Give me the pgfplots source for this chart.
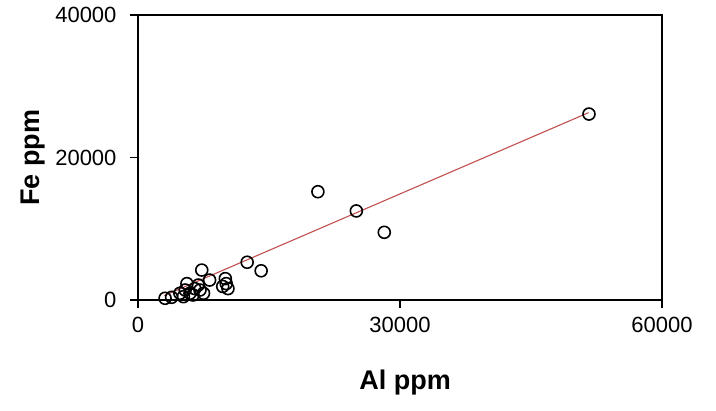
\documentclass[border=0pt]{standalone}
\usepackage{fontspec}
\setmainfont{Liberation Sans}
\usepackage{pgfplots}
\pgfplotsset{compat=1.18}
\definecolor{trend}{RGB}{192,80,77}
\begin{document}
\begin{tikzpicture}
\begin{axis}[
  scale only axis, width=524pt, height=285pt,
  xmin=0, xmax=60000, ymin=0, ymax=40000,
  xtick={0,30000,60000}, ytick={0,20000,40000},
  scaled ticks=false,
  /pgf/number format/1000 sep={},
  /pgf/number format/assume math mode=true,
  tick align=outside, tick pos=left, major tick length=8pt,
  axis line style={line width=1.8pt},
  major tick style={line width=1.3pt, black},
  tick label style={font=\fontsize{22}{26}\selectfont},
  yticklabel style={xshift=-10pt},
  xticklabel style={yshift=-6pt},
  label style={font=\fontsize{27}{32}\selectfont\bfseries},
  xlabel={Al ppm}, ylabel={Fe ppm},
  x label style={at={(axis description cs:0.51,-0.29)}, anchor=center},
  y label style={at={(axis description cs:-0.2,0.5)}, anchor=center},
]
% trend line
\addplot[trend, line width=1.1pt] coordinates {(3000,620) (51600,26300)};
% samples
\addplot[only marks, mark=o, mark size=6pt, mark options={line width=1.6pt, black}] coordinates {
  (51640,26100) (20600,15200) (25000,12500) (28200,9500)
  (12500,5300) (14100,4100) (7300,4200) (8200,2800)
  (10000,3000) (10100,2300) (10300,1600) (9700,1900)
  (5600,2300) (5400,1400) (5200,470) (6500,1600)
  (7100,1400) (7500,940) (6300,700) (3100,240)
  (3850,380) (4800,940) (5950,940) (6900,2100)
};
\end{axis}
\pgfresetboundingbox
\path[use as bounding box] ([shift={(-138pt,-110pt)}]current axis.south west) rectangle ([shift={(54pt,15pt)}]current axis.north east);
\end{tikzpicture}
\end{document}
